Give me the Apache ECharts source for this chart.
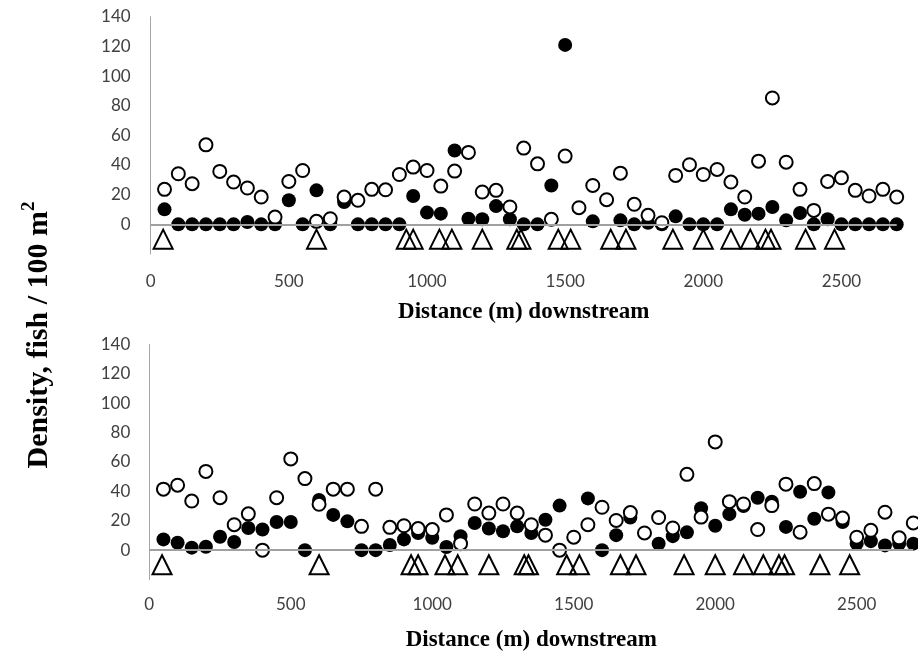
<!DOCTYPE html>
<html>
<head>
<meta charset="utf-8">
<script src="https://cdn.jsdelivr.net/npm/echarts@6/dist/echarts.min.js"></script>
<style>
html,body{margin:0;padding:0;background:#fff;}
#chart{width:918px;height:653px;}
</style>
</head>
<body>
<div id="chart"></div>
<script>
// Distance of each survey point (m downstream)
const distance = [50,100,150,200,250,300,350,400,450,500,550,600,650,700,750,800,850,900,950,1000,
  1050,1100,1150,1200,1250,1300,1350,1400,1450,1500,1550,1600,1650,1700,1750,1800,1850,1900,1950,2000,
  2050,2100,2150,2200,2250,2300,2350,2400,2450,2500,2550,2600,2650,2700];

// Top panel densities (fish / 100 m2)
const topOpen = [23.6,34.1,27.4,53.6,35.7,28.5,24.5,18.4,4.9,28.9,36.3,2.0,3.8,18.4,16.2,23.6,23.3,33.6,38.6,36.3,
  25.8,35.9,48.5,21.8,22.9,11.7,51.4,40.8,3.4,46.0,11.2,26.2,16.6,34.5,13.5,6.1,1.1,33.0,40.2,33.6,
  37.0,28.5,18.4,42.6,85.2,41.9,23.6,9.4,28.9,31.4,22.9,19.1,23.6,18.4];
const topFilled = [10.1,0,0,0,0,0,1.6,0,0,16.2,0,22.9,0,15.0,0,0,0,0,19.1,7.9,
  7.2,49.8,3.8,3.4,12.3,3.4,0,0,26.2,121.0,null,2.0,null,2.7,0,1.0,0,5.4,0,0,
  0,10.1,6.5,7.2,11.7,2.7,7.6,0,3.4,0,0,0,0,0];

// Bottom panel densities (fish / 100 m2)
const bottomOpen = [41.5,44.2,33.4,53.6,35.7,17.3,24.7,0,35.7,62.1,48.7,31.2,41.5,41.5,16.2,41.5,15.5,16.6,14.7,14.0,
  24.0,4.4,31.4,25.2,31.4,25.2,17.3,10.2,0,8.8,17.3,29.2,20.2,25.6,11.7,22.2,15.1,51.6,22.5,73.7,
  33.0,31.4,14.0,30.3,44.9,12.2,45.3,24.5,21.8,8.8,13.5,25.8,8.4,18.5];
const bottomFilled = [7.3,5.0,1.7,2.3,9.1,5.5,15.1,14.0,19.1,19.1,0,34.1,24.0,19.6,0,0,3.5,7.3,11.7,8.4,
  2.1,9.5,18.5,14.7,12.9,16.2,11.7,20.7,30.3,null,35.2,0,10.2,22.2,null,4.4,9.5,12.1,28.5,16.6,
  24.5,30.0,35.7,33.0,15.8,39.7,21.4,39.3,19.1,4.4,6.1,3.2,4.4,4.4];

// Sites marked with triangles (m downstream), same in both panels
const markerSites = [45,600,925,950,1045,1090,1200,1325,1340,1475,1520,1665,1720,1890,2000,2100,2170,2225,2245,2370,2475];
const markerLevel = -10;

// Axis settings
const xMax = 2700;
const xStep = 500;
const yMin = -20, yMax = 140, yStep = 20;
const xTitle = 'Distance (m) downstream';

const pairs = (xs, ys) => xs.map((x, i) => [x, ys[i]]);
const tickFont = {fontFamily: 'Lato', fontSize: 17, color: '#404040'};
const titleFont = {fontFamily: 'Liberation Serif', fontWeight: 'bold', fontSize: 23, color: '#000'};

function xAxisFor(idx, margin, gap) {
  return {
    type: 'value', gridIndex: idx, min: 0, max: xMax, interval: xStep,
    axisLine: {show: false}, axisTick: {show: false}, splitLine: {show: false},
    axisLabel: Object.assign({showMaxLabel: false, margin: margin, formatter: v => String(v)}, tickFont),
    name: xTitle, nameLocation: 'middle', nameGap: gap,
    nameTextStyle: Object.assign({verticalAlign: 'middle'}, titleFont)
  };
}
function yAxisFor(idx, margin) {
  return {
    type: 'value', gridIndex: idx, min: yMin, max: yMax, interval: yStep,
    axisLine: {show: true, onZero: false, lineStyle: {color: '#a6a6a6', width: 1}},
    axisTick: {show: false}, splitLine: {show: false},
    axisLabel: Object.assign({margin: margin, formatter: v => (v < 0 ? '' : String(v))}, tickFont)
  };
}
function panelSeries(idx, openVals, filledVals) {
  return [
    {
      type: 'line', xAxisIndex: idx, yAxisIndex: idx, data: [], z: 1,
      markLine: {silent: true, symbol: ['none', 'none'], label: {show: false},
        lineStyle: {color: '#a0a0a0', width: 2, type: 'solid'}, data: [{yAxis: 0}]}
    },
    {
      type: 'scatter', xAxisIndex: idx, yAxisIndex: idx, z: 2,
      symbol: 'triangle', symbolSize: [19, 19],
      itemStyle: {color: 'rgba(0,0,0,0)', borderColor: '#000', borderWidth: 2, opacity: 1},
      data: markerSites.map(s => [s, markerLevel])
    },
    {
      type: 'scatter', xAxisIndex: idx, yAxisIndex: idx, z: 3,
      symbol: 'circle', symbolSize: 14,
      itemStyle: {color: '#000', opacity: 1},
      data: pairs(distance, filledVals)
    },
    {
      type: 'scatter', xAxisIndex: idx, yAxisIndex: idx, z: 4,
      symbol: 'circle', symbolSize: 13,
      itemStyle: {color: '#fff', borderColor: '#000', borderWidth: 2, opacity: 1},
      data: pairs(distance, openVals)
    }
  ];
}

const chart = echarts.init(document.getElementById('chart'), null, {renderer: 'canvas'});
chart.setOption({
  animation: false,
  backgroundColor: '#fff',
  grid: [
    {left: 150.7, top: 16.7, width: 746, height: 237.3},
    {left: 149.3, top: 344.5, width: 764, height: 237.6}
  ],
  xAxis: [xAxisFor(0, 19, 58), xAxisFor(1, 17, 61)],
  yAxis: [yAxisFor(0, 20), yAxisFor(1, 19)],
  series: [].concat(panelSeries(0, topOpen, topFilled), panelSeries(1, bottomOpen, bottomFilled)),
  graphic: [{
    type: 'text', x: 39, y: 335, rotation: Math.PI / 2,
    style: {
      text: '{a|Density, fish / 100 m}{s|2}',
      align: 'center', verticalAlign: 'middle',
      textAlign: 'center', textVerticalAlign: 'middle',
      rich: {
        a: {fontFamily: 'Liberation Serif', fontWeight: 'bold', fontSize: 30, lineHeight: 38, fill: '#000', color: '#000'},
        s: {fontFamily: 'Liberation Serif', fontWeight: 'bold', fontSize: 19, lineHeight: 38, verticalAlign: 'top', fill: '#000', color: '#000'}
      }
    }
  }]
});
</script>
</body>
</html>
